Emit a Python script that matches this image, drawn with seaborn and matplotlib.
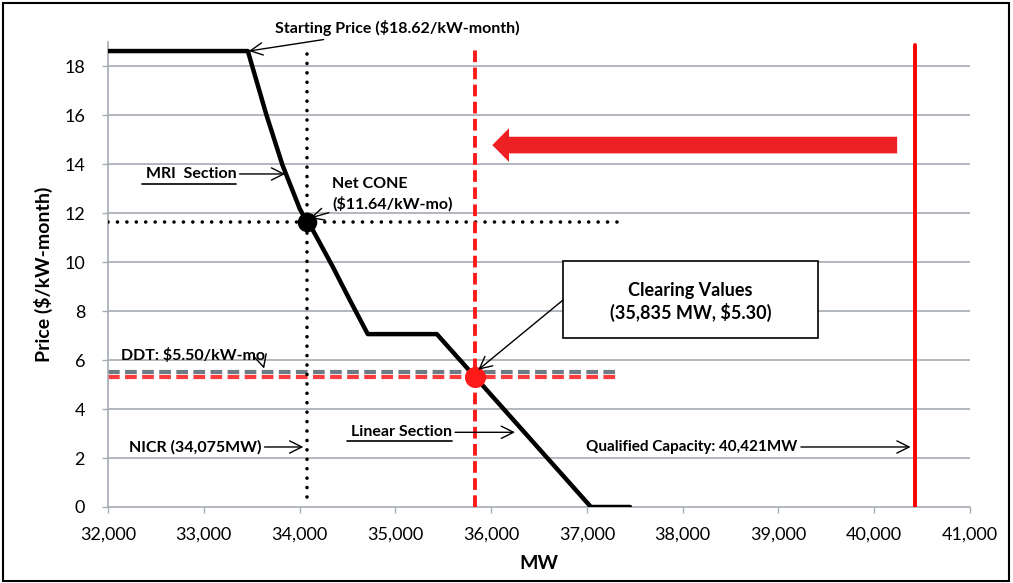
import numpy as np
import pandas as pd
import matplotlib
matplotlib.use("Agg")
import matplotlib.pyplot as plt
import matplotlib.patches as mpatches
import seaborn as sns

# Demand curve (MW, $/kW-month)
curve_mw = [32000, 33460, 33655, 33822, 34000, 34075, 34140, 34348, 34525, 34712,
            35433, 35835, 37042, 37450]
curve_price = [18.62, 18.62, 16.0, 13.96, 12.2, 11.64, 11.3, 9.8, 8.45, 7.06,
               7.06, 5.30, 0.0, 0.0]

start_price = 18.62
net_cone = 11.64
nicr_mw = 34075
ddt_price = 5.50
clear_mw = 35835
clear_price = 5.30
qualified_mw = 40421

x_ticks = [32000, 33000, 34000, 35000, 36000, 37000, 38000, 39000, 40000, 41000]
y_ticks = [0, 2, 4, 6, 8, 10, 12, 14, 16, 18]

sns.set_theme(style="white")
plt.rcParams["font.family"] = ["Lato", "DejaVu Sans"]
plt.rcParams["text.color"] = "black"

fig = plt.figure(figsize=(10.13, 5.83), dpi=100)
ax = fig.add_axes([0.1066, 0.1304, 0.851, 0.798])

grid_c = "#A5ACB4"
for y in y_ticks[1:]:
    ax.axhline(y, color=grid_c, lw=1.2, zorder=0)

df = pd.DataFrame({"MW": curve_mw, "Price": curve_price})

# reference levels
ax.plot([32000, 37300], [ddt_price, ddt_price], color="#6E7B84", lw=3,
        ls=(0, (2.8, 1.3)), zorder=2)
ax.plot([32000, 37300], [clear_price, clear_price], color="#FF3B3B", lw=3,
        ls=(0, (2.8, 1.3)), zorder=2)
ax.plot([32000, 37400], [net_cone, net_cone], color="black", lw=2.6,
        ls=(0, (0.01, 2.6)), dash_capstyle="round", zorder=3)
ax.plot([nicr_mw, nicr_mw], [0.4, 18.6], color="black", lw=2.6,
        ls=(0, (0.01, 2.6)), dash_capstyle="round", zorder=3)
ax.plot([clear_mw, clear_mw], [0, 18.8], color="#FF1A1A", lw=2.8,
        ls=(0, (3.0, 1.4)), zorder=3)
ax.plot([qualified_mw, qualified_mw], [0, 18.85], color="#FF0000", lw=2.8,
        zorder=3)

sns.lineplot(data=df, x="MW", y="Price", color="black", lw=3.2, ax=ax,
             zorder=4, sort=False)

ax.scatter([nicr_mw], [net_cone], s=170, color="black", zorder=6)
ax.scatter([clear_mw], [clear_price], s=200, color="#FF1A1A", zorder=6)

# big red arrow pointing left
ax.add_patch(mpatches.FancyArrow(40239, 14.78, -4227, 0, width=0.68,
                                 head_width=1.38, head_length=175,
                                 length_includes_head=True, color="#ED2024",
                                 lw=0, zorder=5))

ax.set_xlim(32000, 41000)
ax.set_ylim(0, 19)
ax.set_xticks(x_ticks)
ax.set_xticklabels([f"{v:,}" for v in x_ticks])
ax.set_yticks(y_ticks)
ax.tick_params(axis="both", labelsize=13, length=4.5, width=1, color=grid_c,
               labelcolor="black", direction="out")
ax.tick_params(axis="y", pad=12)
ax.tick_params(axis="x", pad=10)
ax.xaxis.set_tick_params(bottom=True)
ax.yaxis.set_tick_params(left=True)
for s in ["top", "right"]:
    ax.spines[s].set_visible(False)
for s in ["left", "bottom"]:
    ax.spines[s].set_color(grid_c)
    ax.spines[s].set_linewidth(1.2)

ax.set_xlabel("MW", fontsize=14, fontweight="bold", color="black")
ax.set_ylabel("Price ($/kW-month)", fontsize=14, fontweight="bold", color="black")
ax.xaxis.set_label_coords(0.5, -0.103)
ax.yaxis.set_label_coords(-0.064, 0.5)

arrow_open = dict(arrowstyle="->", color="black", lw=1.0, mutation_scale=22,
                  shrinkA=0, shrinkB=0)
tkw = dict(fontsize=11.5, fontweight="bold", color="black")

ax.annotate("Starting Price ($18.62/kW-month)", xy=(33470, 18.62),
            xytext=(33740, 19.55), textcoords="data", va="center", ha="left",
            arrowprops=arrow_open, annotation_clip=False, **tkw)

ax.annotate("MRI  Section", xy=(33850, 13.6), xytext=(33340, 13.6),
            va="center", ha="right", arrowprops=arrow_open, **tkw)
ax.plot([32360, 33340], [13.2, 13.2], color="black", lw=1.2)

ax.annotate("Net CONE\n($11.64/kW-mo)", xy=(34110, 11.8),
            xytext=(34340, 12.05), va="bottom", ha="left",
            arrowprops=arrow_open, linespacing=1.45, **tkw)

ax.annotate("DDT: $5.50/kW-mo", xy=(33630, 5.65), xytext=(32140, 6.2),
            va="center", ha="left", arrowprops=dict(arrow_open, relpos=(0.97, 0.3)),
            **tkw)

ax.annotate("NICR (34,075MW)", xy=(34040, 2.45), xytext=(33600, 2.45),
            va="center", ha="right", arrowprops=arrow_open, **tkw)

ax.annotate("Linear Section", xy=(36250, 3.05), xytext=(35590, 3.05),
            va="center", ha="right", arrowprops=arrow_open, **tkw)
ax.plot([34500, 35590], [2.68, 2.68], color="black", lw=1.2)

ax.annotate("Qualified Capacity: 40,421MW", xy=(40380, 2.45),
            xytext=(39200, 2.45), va="center", ha="right",
            arrowprops=arrow_open, fontsize=11, fontweight="bold", color="black")

# clearing-value callout box
box_x0, box_x1, box_y0, box_y1 = 36750, 39414, 6.90, 10.04
ax.add_patch(mpatches.Rectangle((box_x0, box_y0), box_x1 - box_x0, box_y1 - box_y0,
                                fc="white", ec="black", lw=1.2, zorder=7))
ax.text((box_x0 + box_x1) / 2, 8.86, "Clearing Values", ha="center", va="center",
        fontsize=13, fontweight="bold", color="black", zorder=8)
ax.text((box_x0 + box_x1) / 2, 7.96, "(35,835 MW, $5.30)", ha="center",
        va="center", fontsize=13, fontweight="bold", color="black", zorder=8)
ax.annotate("", xy=(clear_mw + 30, clear_price + 0.3), xytext=(box_x0, 8.45),
            arrowprops=dict(arrowstyle="->", color="black", lw=1.0,
                            mutation_scale=22, shrinkA=0, shrinkB=0),
            zorder=7)

# outer frame
fig.add_artist(mpatches.Rectangle((0.003, 0.004), 0.993, 0.991,
                                  transform=fig.transFigure, fill=False,
                                  ec="black", lw=1.5))

fig.savefig("out.png", dpi=100)
